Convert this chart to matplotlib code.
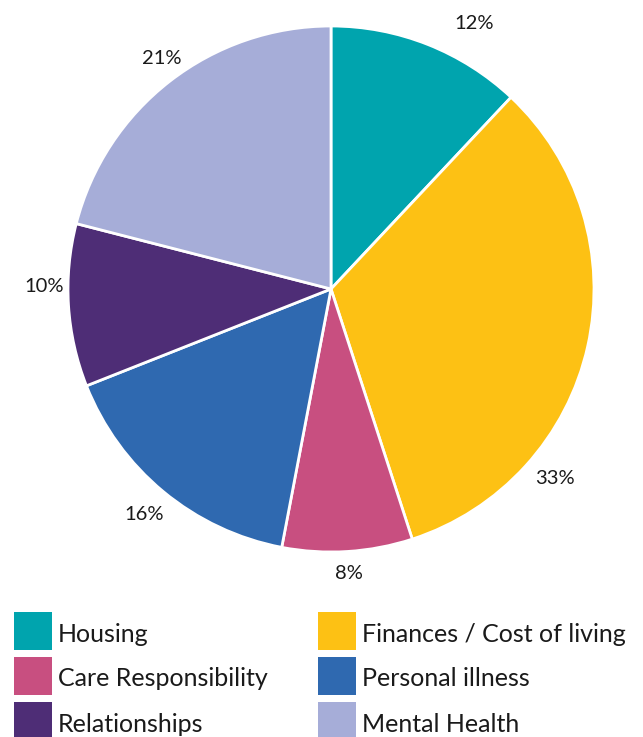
import matplotlib
matplotlib.use("Agg")
import matplotlib.pyplot as plt
from matplotlib.patches import Rectangle

categories = ["Housing", "Finances / Cost of living", "Care Responsibility",
              "Personal illness", "Relationships", "Mental Health"]
values = [12, 33, 8, 16, 10, 21]
labels = ["12%", "33%", "8%", "16%", "10%", "21%"]
colors = ["#00A4AE", "#FDC114", "#C84F80", "#2F69B0", "#4E2D76", "#A6ADD8"]

# label positions (data units, radius = 1)
label_pos = [(0.544, 1.011), (0.852, -0.722), (0.068, -1.080),
             (-0.711, -0.856), (-1.091, 0.011), (-0.643, 0.875)]

W, H = 643, 737
fig = plt.figure(figsize=(W / 100, H / 100), dpi=100)
plt.rcParams['font.family'] = ['Lato', 'DejaVu Sans']

cx, cy, r = 331, 289, 263
ax = fig.add_axes([(cx - r) / W, (H - cy - r) / H, 2 * r / W, 2 * r / H])
ax.pie(values, colors=colors, startangle=90, counterclock=False, radius=1,
       wedgeprops=dict(edgecolor="white", linewidth=2))
ax.set_xlim(-1, 1)
ax.set_ylim(-1, 1)
ax.set_aspect("equal")
ax.axis("off")
for (x, y), t in zip(label_pos, labels):
    ax.text(x, y, t, ha="center", va="center", fontsize=14.5, color="#1a1a1a")

# legend
lax = fig.add_axes([0, 0, 1, 1], zorder=-1)
lax.set_xlim(0, W)
lax.set_ylim(H, 0)
lax.axis("off")
col_x = [14, 318]
row_y = [612, 657, 702]
for i, (cat, c) in enumerate(zip(categories, colors)):
    row, col = divmod(i, 2)
    x0, y0 = col_x[col], row_y[row]
    lax.add_patch(Rectangle((x0, y0), 38, 38, facecolor=c, edgecolor="none"))
    lax.text(x0 + 44, y0 + 22, cat, ha="left", va="center", fontsize=18,
             color="#1a1a1a")

fig.savefig("out.png", dpi=100)
